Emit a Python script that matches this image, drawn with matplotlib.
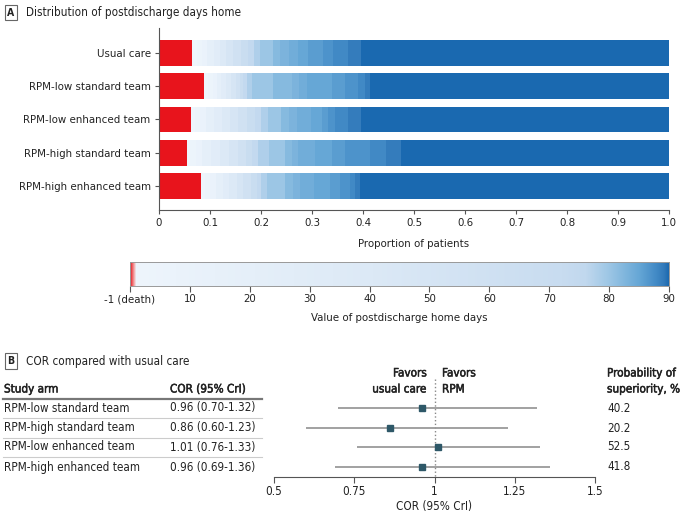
import numpy as np
import matplotlib
matplotlib.use("Agg")
import matplotlib.pyplot as plt
import matplotlib.patheffects as pe
from matplotlib.colors import LinearSegmentedColormap, Normalize

plt.rcParams['font.family'] = ['DejaVu Sans']
plt.rcParams['font.stretch'] = 'condensed'

# panel A data: cumulative proportion of patients up to each value of days home
arms = ["Usual care", "RPM-low standard team", "RPM-low enhanced team",
        "RPM-high standard team", "RPM-high enhanced team"]
days = [-1, 0, 5, 10, 20, 30, 40, 50, 60, 70, 75, 78, 80, 82, 83, 84, 85, 86, 87, 88, 89, 90]
cum_usual = [0.065, 0.075, 0.085, 0.095, 0.108, 0.120, 0.132, 0.145, 0.160, 0.175, 0.186,
             0.198, 0.224, 0.237, 0.255, 0.273, 0.293, 0.322, 0.342, 0.371, 0.397, 1.0]
cum_low_std = [0.089, 0.097, 0.105, 0.113, 0.122, 0.132, 0.141, 0.150, 0.158, 0.165, 0.172,
               0.182, 0.224, 0.260, 0.275, 0.290, 0.339, 0.365, 0.391, 0.403, 0.414, 1.0]
cum_low_enh = [0.063, 0.070, 0.080, 0.092, 0.108, 0.124, 0.140, 0.155, 0.172, 0.188, 0.200,
               0.214, 0.240, 0.255, 0.270, 0.299, 0.319, 0.332, 0.345, 0.371, 0.396, 1.0]
cum_high_std = [0.054, 0.060, 0.072, 0.085, 0.102, 0.120, 0.138, 0.155, 0.170, 0.183, 0.195,
                0.215, 0.247, 0.260, 0.273, 0.306, 0.340, 0.365, 0.414, 0.445, 0.475, 1.0]
cum_high_enh = [0.082, 0.090, 0.100, 0.112, 0.125, 0.138, 0.152, 0.165, 0.180, 0.192, 0.200,
                0.211, 0.247, 0.262, 0.276, 0.303, 0.335, 0.355, 0.375, 0.385, 0.394, 1.0]
cum_all = [cum_usual, cum_low_std, cum_low_enh, cum_high_std, cum_high_enh]

x_ticks = [0, 0.1, 0.2, 0.3, 0.4, 0.5, 0.6, 0.7, 0.8, 0.9, 1.0]
x_labels = ["0", "0.1", "0.2", "0.3", "0.4", "0.5", "0.6", "0.7", "0.8", "0.9", "1.0"]
cb_labels = ["-1 (death)", "10", "20", "30", "40", "50", "60", "70", "80", "90"]

# panel B data
forest_arms = ["RPM-low standard team", "RPM-high standard team",
               "RPM-low enhanced team", "RPM-high enhanced team"]
cor = [0.96, 0.86, 1.01, 0.96]
cor_lo = [0.70, 0.60, 0.76, 0.69]
cor_hi = [1.32, 1.23, 1.33, 1.36]
prob_sup = [40.2, 20.2, 52.5, 41.8]
f_ticks = [0.5, 0.75, 1, 1.25, 1.5]
f_labels = ["0.5", "0.75", "1", "1.25", "1.5"]

W, H = 680, 516
TXT = "#222222"
AX = "#555555"
FS = 8.2      # axis text
FS_T = 8.4    # table text and panel titles
semi = [pe.withStroke(linewidth=0.35, foreground=TXT)]  # fake semibold


def box(x0, y0, x1, y1):
    return [x0 / W, 1 - y1 / H, (x1 - x0) / W, (y1 - y0) / H]


# colormap over days home value
stops = [(-1, "#e8141c"), (-0.4, "#f39a9a"), (0, "#eef5fc"), (40, "#dce9f6"),
         (72, "#c8dcf0"), (76, "#c1d8ee"), (80, "#9cc6e5"), (85, "#66a7d6"),
         (88, "#4189c5"), (89.3, "#3078b9"), (90, "#1a69b0")]
norm = Normalize(-1, 90)
cmap = LinearSegmentedColormap.from_list(
    "days", [(norm(v), c) for v, c in stops], N=4096)

fig = plt.figure(figsize=(6.8, 5.16), dpi=100)

# overlay for panel headers and the table
ov = fig.add_axes([0, 0, 1, 1])
ov.set_xlim(0, W)
ov.set_ylim(H, 0)
ov.axis("off")

hdr_box = dict(boxstyle="square,pad=0.25", fc="white", ec="#666666", lw=0.8)
ov.text(11, 12.5, "A", ha="center", va="center", fontsize=7.5, fontweight="bold",
        color=TXT, bbox=hdr_box)
ov.text(26, 12.5, "Distribution of postdischarge days home", ha="left", va="center",
        fontsize=FS_T, color=TXT)
ov.text(11, 361, "B", ha="center", va="center", fontsize=7.5, fontweight="bold",
        color=TXT, bbox=hdr_box)
ov.text(26, 361, "COR compared with usual care", ha="left", va="center",
        fontsize=FS_T, color=TXT)

# panel A bars
ax = fig.add_axes(box(159, 28, 669, 210))
seg_colors = cmap(norm(np.array(days)))
for i, cum in enumerate(cum_all):
    cum = np.array(cum)
    lefts = np.concatenate([[0], cum[:-1]])
    ax.barh(i, cum - lefts, left=lefts, height=0.78, color=seg_colors, linewidth=0)
ax.set_ylim(4.72, -0.75)
ax.set_xlim(0, 1)
ax.set_yticks(range(len(arms)))
ax.set_yticklabels(arms)
ax.set_xticks(x_ticks)
ax.set_xticklabels(x_labels)
ax.set_xlabel("Proportion of patients", fontsize=FS, color=TXT, labelpad=8)
for s in ["top", "right"]:
    ax.spines[s].set_visible(False)
for s in ["left", "bottom"]:
    ax.spines[s].set_color(AX)
    ax.spines[s].set_linewidth(0.8)
ax.tick_params(colors=AX, labelcolor=TXT, labelsize=FS, length=3, width=0.8, pad=3)

# colour scale
axc = fig.add_axes(box(130, 262, 669, 286))
grad = np.linspace(-1, 90, 910).reshape(1, -1)
axc.imshow(grad, cmap=cmap, norm=norm, aspect="auto", extent=(0, 90, 0, 1))
axc.set_xlim(0, 90)
axc.set_yticks([])
axc.set_xticks(np.arange(0, 91, 10))
axc.set_xticklabels(cb_labels)
axc.set_xlabel("Value of postdischarge home days", fontsize=FS, color=TXT, labelpad=6)
for s in axc.spines.values():
    s.set_color("#999999")
    s.set_linewidth(0.7)
axc.tick_params(colors=AX, labelcolor=TXT, labelsize=FS, length=4, width=0.8, pad=2)

# panel B table
row_y = [408, 428, 447, 467]
ov.text(4, 389, "Study arm", ha="left", va="center", fontsize=FS_T, color=TXT,
        path_effects=semi)
ov.text(170, 389, "COR (95% CrI)", ha="left", va="center", fontsize=FS_T, color=TXT,
        path_effects=semi)
ov.plot([3, 262], [399, 399], color="#777777", lw=1.6)
for k, name in enumerate(forest_arms):
    y = row_y[k]
    ov.text(4, y, name, ha="left", va="center", fontsize=FS_T, color=TXT)
    ov.text(170, y, f"{cor[k]:.2f} ({cor_lo[k]:.2f}-{cor_hi[k]:.2f})", ha="left",
            va="center", fontsize=FS_T, color=TXT)
    ov.text(607, y, f"{prob_sup[k]:.1f}", ha="left", va="center", fontsize=FS_T, color=TXT)
    if k < len(forest_arms) - 1:
        ov.plot([3, 262], [y + 10, y + 10], color="#cccccc", lw=0.8)

ov.text(427, 381, "Favors\nusual care", ha="right", va="center", fontsize=FS_T,
        color=TXT, linespacing=1.3, path_effects=semi)
ov.text(442, 381, "Favors\nRPM", ha="left", va="center", fontsize=FS_T,
        color=TXT, linespacing=1.3, path_effects=semi)
ov.text(607, 381, "Probability of\nsuperiority, %", ha="left", va="center", fontsize=FS_T,
        color=TXT, linespacing=1.3, path_effects=semi)

# forest plot
axf = fig.add_axes(box(274, 398, 595, 477))
yy = np.arange(len(forest_arms))
axf.hlines(yy, cor_lo, cor_hi, color="#9a9a9a", lw=1.3)
axf.plot(cor, yy, "s", color="#2e5868", ms=5, zorder=3)
axf.plot([1, 1], [-1.45, 3.5], ls=":", color="#888888", lw=1, clip_on=False, zorder=1)
axf.set_ylim(3.5, -0.5)
axf.set_xlim(0.5, 1.5)
axf.set_yticks([])
axf.set_xticks(f_ticks)
axf.set_xticklabels(f_labels)
axf.set_xlabel("COR (95% CrI)", fontsize=FS_T, color=TXT, labelpad=1)
for s in ["top", "right", "left"]:
    axf.spines[s].set_visible(False)
axf.spines["bottom"].set_color(AX)
axf.spines["bottom"].set_linewidth(0.8)
axf.tick_params(colors=AX, labelcolor=TXT, labelsize=FS_T, length=4, width=0.8, pad=2)

fig.savefig("out.png", dpi=100)
